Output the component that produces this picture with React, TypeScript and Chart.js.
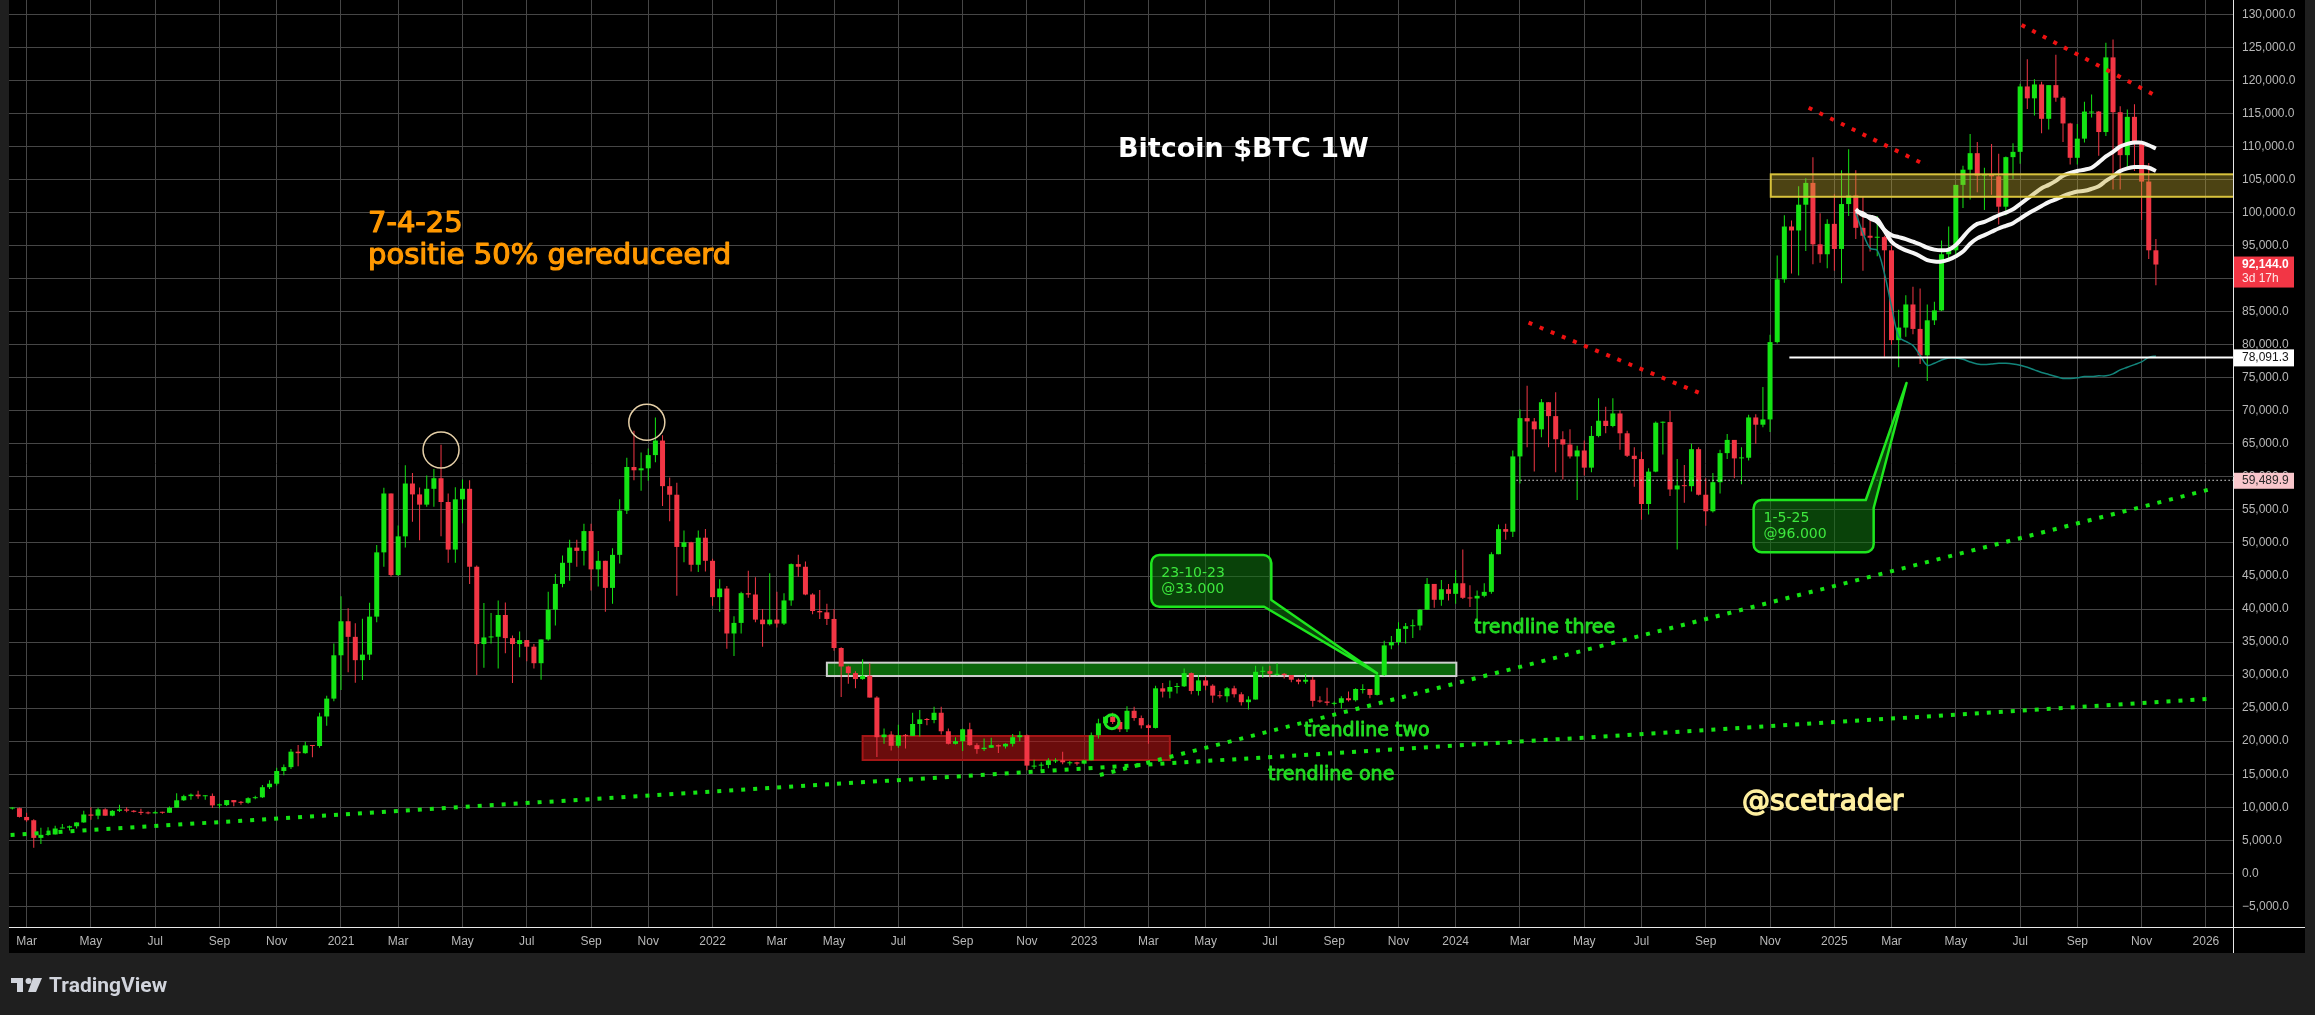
import { useEffect, useRef } from 'react';
import { Chart, registerables } from 'chart.js';

Chart.register(...registerables);

// ================= DATA =================
const AXIS_ORIGIN = '2020-03-02'; // week 0 of the time axis (Monday)
const FIRST_CANDLE = '2020-02-17'; // Monday of the first weekly candle

// weekly candles [open, high, low, close] in thousands of USD
const btc2020 = [
  [9.80, 10.0, 9.65, 9.86], [9.86, 9.96, 8.45, 8.53], [8.53, 9.18, 7.80, 8.03], [8.03, 8.18, 3.85, 5.36],
  [5.36, 6.90, 4.44, 5.82], [5.82, 6.98, 5.69, 5.88], [5.88, 7.20, 5.86, 6.78], [6.78, 7.47, 6.77, 6.91],
  [6.91, 7.22, 6.46, 7.12], [7.12, 7.73, 6.80, 7.70], [7.70, 9.46, 7.66, 8.90], [8.90, 10.0, 8.12, 8.72],
  [8.72, 9.93, 8.20, 9.68], [9.68, 9.86, 8.70, 8.72], [8.72, 9.60, 8.63, 9.45], [9.45, 10.38, 9.27, 9.67],
  [9.67, 9.99, 9.23, 9.47], [9.47, 9.58, 9.19, 9.30], [9.30, 9.77, 8.83, 9.14], [9.14, 9.37, 8.94, 9.07],
  [9.07, 9.48, 9.05, 9.25], [9.25, 9.30, 9.03, 9.16], [9.16, 10.11, 9.13, 9.93], [9.93, 12.10, 9.93, 11.05],
  [11.05, 11.90, 10.95, 11.68], [11.68, 12.08, 11.15, 11.91], [11.91, 12.48, 11.28, 11.66], [11.66, 11.80, 11.15, 11.71],
  [11.71, 12.09, 9.88, 10.28], [10.28, 10.58, 9.85, 10.33], [10.33, 11.10, 10.20, 11.08], [11.08, 11.10, 10.14, 10.75],
  [10.75, 10.95, 10.37, 10.67], [10.67, 11.50, 10.52, 11.37], [11.37, 11.72, 11.20, 11.50], [11.50, 13.35, 11.40, 13.03],
  [13.03, 14.09, 12.76, 13.56], [13.56, 15.96, 13.30, 15.48], [15.48, 16.48, 14.84, 16.07], [16.07, 18.81, 15.79, 18.41],
  [18.41, 19.42, 16.19, 18.18], [18.18, 19.92, 18.10, 19.36], [19.36, 19.42, 17.58, 19.27], [19.27, 24.30, 19.00, 23.74],
  [23.74, 26.87, 22.35, 26.44], [26.44, 34.78, 26.05, 33.0],
];
const btc2021 = [
  [33.0, 41.95, 27.73, 38.15], [38.15, 40.1, 30.42, 35.79], [35.79, 37.85, 28.85, 32.26], [32.26, 38.53, 29.24, 33.1],
  [33.1, 40.95, 32.3, 38.85], [38.85, 49.7, 37.99, 48.58], [48.58, 58.35, 46.4, 57.49], [57.49, 57.5, 44.9, 45.14],
  [45.14, 52.64, 45.0, 51.0], [51.0, 61.78, 49.3, 59.0], [59.0, 60.6, 53.2, 57.35], [57.35, 58.4, 50.4, 55.8],
  [55.8, 60.2, 55.5, 58.2], [58.2, 61.2, 55.5, 59.8], [59.8, 64.85, 51.0, 56.2], [56.2, 57.5, 47.0, 49.0],
  [49.0, 58.45, 47.0, 56.6], [56.6, 59.6, 53.0, 58.2], [58.2, 59.5, 43.8, 46.4], [46.4, 46.6, 30.0, 34.7],
  [34.7, 40.9, 31.1, 35.7], [35.7, 39.4, 34.8, 35.8], [35.8, 41.3, 31.0, 39.1], [39.1, 41.0, 33.3, 35.6],
  [35.6, 36.0, 28.8, 34.7], [34.7, 36.6, 32.7, 35.3], [35.3, 35.3, 32.1, 34.3], [34.3, 34.7, 31.0, 31.8],
  [31.8, 35.4, 29.3, 35.4], [35.4, 42.6, 35.2, 39.9], [39.9, 45.3, 37.5, 43.8], [43.8, 48.1, 43.3, 47.0],
  [47.0, 50.5, 44.3, 49.3], [49.3, 50.5, 46.4, 48.8], [48.8, 52.9, 46.6, 51.8], [51.8, 52.9, 42.8, 46.0],
  [46.0, 48.8, 43.4, 47.3], [47.3, 47.3, 39.6, 43.2], [43.2, 49.2, 40.8, 48.2], [48.2, 56.6, 46.9, 54.9],
  [54.9, 62.9, 54.4, 61.5], [61.5, 67.0, 59.5, 61.0], [61.0, 63.7, 57.9, 61.3], [61.3, 64.3, 59.4, 63.3],
  [63.3, 69.0, 62.2, 65.5], [65.5, 66.3, 55.6, 58.6], [58.6, 59.9, 53.3, 57.3], [57.3, 59.1, 42.0, 49.4],
  [49.4, 51.9, 47.1, 50.1], [50.1, 50.2, 45.7, 46.7], [46.7, 51.9, 45.6, 50.8], [50.8, 52.1, 45.7, 47.3],
];
const btc2022 = [
  [47.3, 47.6, 40.5, 41.8], [41.8, 44.5, 39.6, 43.1], [43.1, 43.5, 34.0, 36.3], [36.3, 38.9, 32.9, 37.9],
  [37.9, 42.6, 36.3, 42.4], [42.4, 45.8, 41.7, 42.2], [42.2, 44.8, 38.0, 38.4], [38.4, 40.0, 34.3, 37.7],
  [37.7, 45.4, 37.5, 38.4], [38.4, 42.6, 37.2, 37.8], [37.8, 42.4, 37.6, 41.3], [41.3, 46.9, 40.5, 46.8],
  [46.8, 48.2, 44.9, 46.4], [46.4, 47.2, 42.1, 42.2], [42.2, 42.4, 39.2, 39.7], [39.7, 42.9, 38.5, 39.5],
  [39.5, 40.8, 37.6, 38.5], [38.5, 40.0, 33.7, 34.1], [34.1, 34.2, 26.7, 31.3], [31.3, 31.4, 28.7, 30.3],
  [30.3, 30.6, 28.0, 29.4], [29.4, 32.4, 29.3, 29.9], [29.9, 31.8, 26.6, 26.6], [26.6, 26.8, 17.6, 20.6],
  [20.6, 21.9, 19.6, 21.0], [21.0, 21.5, 18.6, 19.3], [19.3, 22.5, 19.0, 20.9], [20.9, 21.1, 18.9, 20.8],
  [20.8, 24.3, 20.8, 22.6], [22.6, 24.7, 20.7, 23.3], [23.3, 23.5, 22.4, 23.2], [23.2, 25.2, 22.7, 24.3],
  [24.3, 25.2, 21.0, 21.5], [21.5, 21.9, 19.5, 19.6], [19.6, 20.6, 19.5, 20.0], [20.0, 21.9, 18.5, 21.8],
  [21.8, 22.8, 19.3, 19.4], [19.4, 19.7, 18.1, 18.8], [18.8, 20.4, 18.5, 19.0], [19.0, 20.5, 19.0, 19.4],
  [19.4, 19.5, 18.2, 19.2], [19.2, 19.7, 18.9, 19.6], [19.6, 21.1, 19.2, 20.6], [20.6, 21.5, 20.0, 20.9],
  [20.9, 21.0, 15.6, 16.3], [16.3, 17.2, 15.8, 16.3], [16.3, 16.8, 15.5, 16.4], [16.4, 17.4, 15.9, 17.1],
  [17.1, 17.4, 16.7, 17.1], [17.1, 18.4, 16.5, 16.8], [16.8, 17.0, 16.3, 16.8], [16.8, 16.9, 16.3, 16.6],
];
const btc2023 = [
  [16.6, 17.2, 16.5, 17.1], [17.1, 21.3, 17.1, 20.9], [20.9, 23.4, 20.4, 22.7], [22.7, 23.8, 22.3, 23.7],
  [23.7, 24.3, 22.6, 22.9], [22.9, 23.2, 21.4, 21.8], [21.8, 25.3, 21.4, 24.6], [24.6, 25.2, 23.1, 23.5],
  [23.5, 23.9, 21.9, 22.4], [22.4, 22.6, 19.6, 22.0], [22.0, 28.4, 21.9, 28.0], [28.0, 28.8, 26.6, 27.5],
  [27.5, 29.2, 26.5, 28.2], [28.2, 28.8, 27.2, 28.3], [28.3, 31.0, 28.2, 30.3], [30.3, 30.4, 27.1, 27.6],
  [27.6, 30.0, 26.9, 29.2], [29.2, 29.8, 27.7, 28.4], [28.4, 28.6, 25.8, 26.9], [26.9, 27.6, 26.5, 26.8],
  [26.8, 28.2, 25.9, 28.0], [28.0, 28.4, 26.6, 27.1], [27.1, 27.4, 25.4, 25.9], [25.9, 26.8, 24.8, 26.3],
  [26.3, 31.4, 26.3, 30.5], [30.5, 31.3, 29.6, 30.6], [30.6, 31.4, 29.7, 30.2], [30.2, 31.8, 29.9, 30.2],
  [30.2, 30.3, 29.5, 30.0], [30.0, 30.0, 28.9, 29.3], [29.3, 29.5, 28.6, 29.0], [29.0, 30.2, 28.7, 29.3],
  [29.3, 29.7, 25.2, 26.1], [26.1, 26.8, 25.8, 26.0], [26.0, 28.1, 25.4, 25.8], [25.8, 26.0, 25.4, 25.8],
  [25.8, 26.8, 24.9, 26.5], [26.5, 27.5, 26.0, 26.2], [26.2, 28.0, 26.0, 27.9], [27.9, 28.6, 27.2, 27.9],
  [27.9, 27.9, 26.5, 27.0], [27.0, 30.4, 26.9, 30.0], [30.0, 35.2, 29.9, 34.5], [34.5, 35.9, 33.9, 35.0],
  [35.0, 38.0, 34.5, 37.0], [37.0, 37.9, 34.8, 37.4], [37.4, 38.4, 35.6, 37.5], [37.5, 40.0, 36.8, 39.9],
  [39.9, 44.7, 39.9, 43.8], [43.8, 43.8, 40.2, 41.4], [41.4, 44.4, 40.5, 43.0], [43.0, 43.8, 41.3, 42.3],
];
const btc2024 = [
  [42.3, 45.9, 40.8, 43.9], [43.9, 49.0, 41.5, 41.7], [41.7, 43.6, 40.3, 41.6], [41.6, 42.8, 38.5, 42.0],
  [42.0, 43.9, 41.8, 42.6], [42.6, 48.6, 42.3, 48.3], [48.3, 52.8, 48.3, 52.1], [52.1, 52.9, 50.5, 51.7],
  [51.7, 64.0, 50.9, 63.1], [63.1, 70.2, 59.0, 68.9], [68.9, 73.8, 64.5, 68.4], [68.4, 68.9, 60.8, 67.2],
  [67.2, 71.8, 66.0, 71.3], [71.3, 71.3, 64.5, 69.2], [69.2, 72.8, 60.7, 65.7], [65.7, 66.9, 59.6, 64.9],
  [64.9, 67.2, 62.8, 63.1], [63.1, 64.7, 56.5, 64.0], [64.0, 65.5, 60.2, 61.4], [61.4, 67.7, 60.7, 66.2],
  [66.2, 71.9, 66.0, 68.5], [68.5, 70.6, 66.6, 67.7], [67.7, 71.9, 67.5, 69.6], [69.6, 70.1, 64.1, 66.6],
  [66.6, 67.0, 63.0, 63.2], [63.2, 64.5, 58.5, 62.7], [62.7, 63.8, 53.5, 55.9], [55.9, 61.3, 54.3, 60.8],
  [60.8, 68.4, 60.7, 68.2], [68.2, 68.4, 63.4, 68.3], [68.3, 70.0, 57.1, 58.1], [58.1, 62.7, 49.0, 58.7],
  [58.7, 61.8, 56.1, 58.6], [58.6, 65.0, 57.8, 64.2], [64.2, 64.5, 57.2, 57.3], [57.3, 59.8, 52.6, 54.8],
  [54.8, 60.6, 54.6, 59.2], [59.2, 64.1, 57.5, 63.6], [63.6, 66.5, 62.7, 65.6], [65.6, 65.6, 59.8, 62.8],
  [62.8, 64.5, 58.9, 62.9], [62.9, 69.4, 62.5, 69.0], [69.0, 69.5, 65.0, 67.9], [67.9, 73.6, 67.5, 68.7],
  [68.7, 81.5, 66.8, 80.4], [80.4, 93.5, 80.2, 89.9], [89.9, 99.6, 89.4, 97.9], [97.9, 98.8, 90.8, 97.3],
  [97.3, 104.0, 90.5, 101.2], [101.2, 105.2, 94.2, 104.5], [104.5, 108.4, 92.2, 95.2], [95.2, 99.9, 92.4, 93.7],
  [93.7, 99.0, 91.6, 98.3],
];
const btc2025 = [
  [98.3, 102.8, 91.2, 94.5], [94.5, 106.4, 89.3, 101.3], [101.3, 109.6, 99.5, 102.6], [102.6, 106.4, 96.0, 97.7],
  [97.7, 102.5, 91.2, 96.5], [96.5, 98.8, 94.1, 96.2], [96.2, 99.5, 93.4, 96.3], [96.3, 96.5, 78.2, 94.3],
  [94.3, 95.0, 80.0, 80.7], [80.7, 85.3, 76.6, 82.6], [82.6, 87.5, 81.2, 86.1], [86.1, 88.8, 81.6, 82.4],
  [82.4, 88.5, 77.1, 78.4], [78.4, 86.1, 74.5, 83.7], [83.7, 86.5, 83.0, 85.2], [85.2, 95.8, 85.1, 93.7],
  [93.7, 97.9, 92.8, 94.3], [94.3, 104.1, 93.4, 104.2], [104.2, 107.1, 100.7, 106.5], [106.5, 111.9, 102.0, 109.0],
  [109.0, 110.7, 103.1, 105.6], [105.6, 106.8, 100.4, 105.7], [105.7, 110.4, 102.7, 105.5], [105.5, 108.9, 98.2, 100.9],
  [100.9, 108.5, 99.6, 108.4], [108.4, 110.5, 105.1, 109.2], [109.2, 119.5, 107.4, 119.1], [119.1, 123.2, 115.7, 117.3],
  [117.3, 120.2, 114.7, 119.4], [119.4, 119.8, 112.0, 114.2], [114.2, 119.3, 112.6, 119.3], [119.3, 123.9, 116.8, 117.4],
  [117.4, 117.6, 110.7, 113.5], [113.5, 113.6, 107.3, 108.3], [108.3, 113.4, 107.3, 111.2], [111.2, 116.8, 110.6, 115.3],
  [115.3, 117.9, 114.4, 115.3], [115.3, 115.4, 108.6, 112.2], [112.2, 125.7, 111.6, 123.5], [123.5, 126.2, 103.5, 115.2],
  [115.2, 116.1, 103.5, 108.7], [108.7, 115.6, 106.7, 114.5], [114.5, 116.4, 106.3, 110.5], [110.5, 110.8, 98.9, 104.7],
  [104.7, 107.5, 93.0, 94.3], [94.3, 96.0, 89.0, 92.144],
];

// price axis ticks
const yTickValues = [
  -5000, 0, 5000, 10000, 15000, 20000, 25000, 30000, 35000, 40000, 45000, 50000, 55000, 60000,
  65000, 70000, 75000, 80000, 85000, 90000, 95000, 100000, 105000, 110000, 115000, 120000, 125000, 130000,
];
// time axis ticks (first weekly bar of the month)
const xTickDates = [
  '2020-03-02', '2020-05-04', '2020-07-06', '2020-09-07', '2020-11-02', '2021-01-04',
  '2021-03-01', '2021-05-03', '2021-07-05', '2021-09-06', '2021-11-01', '2022-01-03',
  '2022-03-07', '2022-05-02', '2022-07-04', '2022-09-05', '2022-11-07', '2023-01-02',
  '2023-03-06', '2023-05-01', '2023-07-03', '2023-09-04', '2023-11-06', '2024-01-01',
  '2024-03-04', '2024-05-06', '2024-07-01', '2024-09-02', '2024-11-04', '2025-01-06',
  '2025-03-03', '2025-05-05', '2025-07-07', '2025-09-01', '2025-11-03', '2026-01-05',
];
const xTickLabels = [
  'Mar', 'May', 'Jul', 'Sep', 'Nov', '2021', 'Mar', 'May', 'Jul', 'Sep', 'Nov', '2022',
  'Mar', 'May', 'Jul', 'Sep', 'Nov', '2023', 'Mar', 'May', 'Jul', 'Sep', 'Nov', '2024',
  'Mar', 'May', 'Jul', 'Sep', 'Nov', '2025', 'Mar', 'May', 'Jul', 'Sep', 'Nov', '2026',
];

// drawn trend lines: [week, price]
const trendlineOne = [[-2.24, 5800], [306.0, 26430]];
const trendlineTwo = [[150.2, 14880], [306.2, 58300]];
const downtrend2024 = [[210.2, 83340], [234.8, 72400]];
const downtrend2025a = [[249.4, 115880], [266.0, 107100]];
const downtrend2025b = [[279.2, 128400], [298.5, 117400]];

// indicator lines from week 256 (thousands USD)
const bandStartWeek = 256;
const bandUpper = [
  100.5, 99.6, 99.4, 99.0, 97.4, 96.6, 96.3, 96.0, 95.6, 95.2, 94.7, 94.4, 94.3, 94.4, 95.1, 96.3,
  97.5, 98.3, 98.6, 99.1, 99.6, 100.0, 100.5, 101.3, 102.1, 102.9, 103.7, 104.2, 104.8, 105.6, 106.0,
  106.3, 106.5, 106.8, 107.6, 108.5, 109.2, 110.0, 110.4, 110.6, 110.6, 110.2, 109.7,
];
const bandLower = [
  100.2, 99.9, 99.1, 98.6, 97.3, 95.6, 94.8, 94.3, 93.9, 93.4, 92.8, 92.6, 92.6, 92.9, 93.4, 94.1,
  95.3, 96.1, 96.6, 97.1, 97.6, 98.0, 98.4, 99.1, 99.8, 100.4, 101.0, 101.6, 102.0, 102.5, 102.9,
  103.2, 103.3, 103.6, 104.0, 104.8, 105.5, 106.3, 106.7, 106.9, 106.9, 106.8, 106.3,
];
const tealLine = [
  99.9, 96.9, 94.6, 94.3, 90.8, 85.8, 81.2, 80.5, 79.9, 78.4, 76.9, 77.2, 77.7, 78.0, 78.0, 77.8,
  77.4, 77.1, 77.0, 77.1, 77.2, 77.2, 77.1, 76.9, 76.6, 76.2, 75.8, 75.5, 75.2, 74.9, 74.9,
  75.0, 75.2, 75.2, 75.3, 75.3, 75.6, 76.2, 76.6, 77.0, 77.4, 78.1, 78.3,
];

const supportLevel = 78091.3;
const supportFromWeek = 246.7;
const markedLevel = 59489.9;
const markedFromWeek = 208.5;
const lastPrice = 92144.0;
const countdownText = '3d 17h';

// zones [fromWeek, toWeek, low, high]
const resistanceZone = [244.1, 320, 102400, 105800];
const rangeTopZone = [112.0, 200.1, 29860, 31880];
const bottomZone = [117.0, 160.0, 17150, 20780];

// callouts: box [leftWeek, rightWeek, low, high], tip [week, price], tail base [week on edge, price on right edge]
const calloutOct = { lines: ['23-10-23', '@33.000'], box: [157.4, 174.2, 40350, 48180], tip: [189.0, 30270], tail: [173.2, 41370], corner: 'br' };
const calloutMay = { lines: ['1-5-25', '@96.000'], box: [241.7, 258.5, 48590, 56500], tip: [263.1, 74210], tail: [257.4, 55290], corner: 'tr' };

// highlighted tops [week, price]
const topCircles = [[58.0, 64070], [86.8, 68260]];
const smallRing = [151.9, 22950];

// ================= LAYOUT / STYLE =================
const W = 2315;
const H = 1015;
const X_MIN = -2.464;
const X_MAX = 308.79;
const Y_MIN = -8128;
const Y_MAX = 132185;
const GREEN = '#14e414';
const RED = '#f23645';
const GRID = '#464646';
const AXIS_TEXT = '#b8b8b8';
const DOT_GREEN = '#14e414';
const DOT_RED = '#ee1111';

const DAY = 86400000;
const weekOf = (d: string) => Math.round((Date.parse(d) - Date.parse(AXIS_ORIGIN)) / (7 * DAY));

function fmtPrice(v: number) {
  return v.toLocaleString('en-US', { minimumFractionDigits: 1, maximumFractionDigits: 1 }).replace('-', '\u2212');
}

function roundRectPath(ctx: any, L: number, T: number, R: number, B: number, r: number, corner: string, tailA: number, tailB: number, tip: number[]) {
  ctx.beginPath();
  if (corner === 'br') {
    ctx.moveTo(L + r, T);
    ctx.lineTo(R - r, T);
    ctx.arcTo(R, T, R, T + r, r);
    ctx.lineTo(R, tailB);
    ctx.lineTo(tip[0], tip[1]);
    ctx.lineTo(tailA, B);
    ctx.lineTo(L + r, B);
    ctx.arcTo(L, B, L, B - r, r);
    ctx.lineTo(L, T + r);
    ctx.arcTo(L, T, L + r, T, r);
  } else {
    ctx.moveTo(L + r, T);
    ctx.lineTo(tailA, T);
    ctx.lineTo(tip[0], tip[1]);
    ctx.lineTo(R, tailB);
    ctx.lineTo(R, B - r);
    ctx.arcTo(R, B, R - r, B, r);
    ctx.lineTo(L + r, B);
    ctx.arcTo(L, B, L, B - r, r);
    ctx.lineTo(L, T + r);
    ctx.arcTo(L, T, L + r, T, r);
  }
  ctx.closePath();
}

function boldText(ctx: any, text: string, x: number, y: number, color: string, stroke: number) {
  ctx.fillStyle = color;
  ctx.fillText(text, x, y);
  if (stroke > 0) {
    ctx.strokeStyle = color;
    ctx.lineWidth = stroke;
    ctx.lineJoin = 'round';
    ctx.strokeText(text, x, y);
  }
}

export default function App() {
  const ref = useRef<HTMLCanvasElement>(null);

  useEffect(() => {
    const canvas = ref.current;
    if (!canvas) return;

    const firstWeek = weekOf(FIRST_CANDLE);
    const all = [...btc2020, ...btc2021, ...btc2022, ...btc2023, ...btc2024, ...btc2025];
    const candles = all.map((c, k) => ({ x: firstWeek + k, o: c[0] * 1000, h: c[1] * 1000, l: c[2] * 1000, c: c[3] * 1000 }));
    const colors = candles.map((c) => (c.c >= c.o ? GREEN : RED));
    const xTickWeeks = xTickDates.map(weekOf);

    const seg = (pts: number[][]) => pts.map((p) => ({ x: p[0], y: p[1] }));
    const series = (vals: number[]) => vals.map((v, k) => ({ x: bandStartWeek + k, y: v * 1000 }));

    const dotted = (label: string, pts: number[][], color: string) => ({
      type: 'line', label, data: seg(pts), borderColor: color, borderWidth: 4, borderDash: [4, 8],
      borderCapStyle: 'butt', pointRadius: 0, fill: false, tension: 0, order: 1,
    });

    const px = (chart: any, v: number) => chart.scales.x.getPixelForValue(v);
    const py = (chart: any, v: number) => chart.scales.y.getPixelForValue(v);

    const drawZone = (chart: any, z: number[], fill: string, stroke: string) => {
      const ctx = chart.ctx;
      const a = chart.chartArea;
      const x0 = px(chart, z[0]);
      const x1 = px(chart, z[1]);
      const y0 = py(chart, z[3]);
      const y1 = py(chart, z[2]);
      ctx.save();
      ctx.beginPath();
      ctx.rect(a.left, a.top, a.right - a.left, a.bottom - a.top);
      ctx.clip();
      ctx.fillStyle = fill;
      ctx.fillRect(x0, y0, x1 - x0, y1 - y0);
      ctx.strokeStyle = stroke;
      ctx.lineWidth = 2;
      ctx.strokeRect(x0, y0, x1 - x0, y1 - y0);
      ctx.restore();
    };

    const drawCallout = (chart: any, c: any) => {
      const ctx = chart.ctx;
      const L = px(chart, c.box[0]);
      const R = px(chart, c.box[1]);
      const T = py(chart, c.box[3]);
      const B = py(chart, c.box[2]);
      const tip = [px(chart, c.tip[0]), py(chart, c.tip[1])];
      const tailA = px(chart, c.tail[0]);
      const tailB = py(chart, c.tail[1]);
      ctx.save();
      roundRectPath(ctx, L, T, R, B, 8, c.corner, tailA, tailB, tip);
      ctx.fillStyle = 'rgba(16,120,16,0.55)';
      ctx.fill();
      ctx.strokeStyle = '#1ee61e';
      ctx.lineWidth = 2.5;
      ctx.lineJoin = 'round';
      ctx.stroke();
      ctx.font = '14px "DejaVu Sans"';
      ctx.textBaseline = 'alphabetic';
      ctx.textAlign = 'left';
      ctx.fillStyle = '#3ee83e';
      ctx.fillText(c.lines[0], L + 10, T + 22);
      ctx.fillText(c.lines[1], L + 10, T + 38);
      ctx.restore();
    };

    const overlay = {
      id: 'overlay',
      beforeDraw(chart: any) {
        const ctx = chart.ctx;
        ctx.save();
        ctx.fillStyle = '#1f1f1f';
        ctx.fillRect(0, 0, W, H);
        ctx.fillStyle = '#000000';
        ctx.fillRect(9, 0, 2305 - 9, 953);
        ctx.restore();
      },
      beforeDatasetsDraw(chart: any) {
        drawZone(chart, bottomZone, 'rgba(178,20,20,0.6)', '#a51616');
        drawZone(chart, rangeTopZone, 'rgba(20,170,20,0.6)', '#cfcfcf');
      },
      afterDatasetDraw(chart: any, args: any) {
        if (chart.data.datasets[args.index].label === 'bandLower') {
          drawZone(chart, resistanceZone, 'rgba(200,175,50,0.38)', '#d8c23c');
        }
      },
      afterDatasetsDraw(chart: any) {
        const ctx = chart.ctx;
        ctx.save();
        // circles around the tops
        ctx.strokeStyle = '#e6d0a8';
        ctx.lineWidth = 1.5;
        for (const c of topCircles) {
          ctx.beginPath();
          ctx.arc(px(chart, c[0]), py(chart, c[1]), 18, 0, Math.PI * 2);
          ctx.stroke();
        }
        ctx.strokeStyle = '#1ee61e';
        ctx.lineWidth = 3;
        ctx.beginPath();
        ctx.arc(px(chart, smallRing[0]), py(chart, smallRing[1]), 7, 0, Math.PI * 2);
        ctx.stroke();
        ctx.restore();

        drawCallout(chart, calloutOct);
        drawCallout(chart, calloutMay);

        ctx.save();
        ctx.textAlign = 'left';
        ctx.textBaseline = 'alphabetic';
        ctx.font = 'bold 27px "DejaVu Sans"';
        boldText(ctx, 'Bitcoin $BTC 1W', 1118, 157, '#ffffff', 0);
        ctx.font = '29px "DejaVu Sans"';
        boldText(ctx, '7-4-25', 368, 232, '#ff9800', 1.2);
        boldText(ctx, 'positie 50% gereduceerd', 368, 264, '#ff9800', 1.2);
        ctx.font = '19px "DejaVu Sans"';
        boldText(ctx, 'trendline three', 1474, 633, '#22dc22', 0.9);
        boldText(ctx, 'trendline two', 1304, 736, '#22dc22', 0.9);
        boldText(ctx, 'trendline one', 1268, 780, '#22dc22', 0.9);
        ctx.font = '28px "DejaVu Sans"';
        boldText(ctx, '@scetrader', 1742, 810, '#fff0a0', 1.3);
        ctx.restore();
      },
      afterDraw(chart: any) {
        const ctx = chart.ctx;
        const a = chart.chartArea;
        ctx.save();
        // axis separators
        ctx.strokeStyle = '#e8e8e8';
        ctx.lineWidth = 1;
        ctx.beginPath();
        ctx.moveTo(a.right + 0.5, 0);
        ctx.lineTo(a.right + 0.5, 953);
        ctx.moveTo(9, a.bottom + 0.5);
        ctx.lineTo(2305, a.bottom + 0.5);
        ctx.stroke();

        // price tags
        const tagX = a.right + 1;
        const tagW = 60;
        ctx.textAlign = 'left';
        ctx.textBaseline = 'middle';
        const yl = py(chart, lastPrice);
        ctx.fillStyle = '#f23645';
        ctx.fillRect(tagX, yl - 8, tagW, 31);
        ctx.fillStyle = '#ffffff';
        ctx.font = 'bold 12px "Liberation Sans"';
        ctx.fillText(fmtPrice(lastPrice), a.right + 9, yl + 0.5);
        ctx.font = '12px "Liberation Sans"';
        ctx.fillStyle = '#ffe8ea';
        ctx.fillText(countdownText, a.right + 9, yl + 14);

        const ys = py(chart, supportLevel);
        ctx.fillStyle = '#ffffff';
        ctx.fillRect(tagX, ys - 8, tagW, 17);
        ctx.fillStyle = '#131313';
        ctx.fillText(fmtPrice(supportLevel), a.right + 9, ys + 0.5);

        const ym = py(chart, markedLevel);
        ctx.fillStyle = '#f8c6cb';
        ctx.fillRect(tagX, ym - 7.5, tagW, 16);
        ctx.fillStyle = '#2a2a2a';
        ctx.fillText(fmtPrice(markedLevel), a.right + 9, ym + 0.5);

        // TradingView logo
        ctx.fillStyle = '#d1d4dc';
        ctx.fillRect(11, 978, 12, 5);
        ctx.fillRect(17, 978, 6, 14);
        ctx.beginPath();
        ctx.arc(28.5, 981, 3, 0, Math.PI * 2);
        ctx.fill();
        ctx.beginPath();
        ctx.moveTo(33, 978);
        ctx.lineTo(42, 978);
        ctx.lineTo(36, 992);
        ctx.lineTo(28, 992);
        ctx.closePath();
        ctx.fill();
        ctx.textBaseline = 'alphabetic';
        ctx.font = 'bold 21px Roboto';
        ctx.fillText('TradingView', 49, 992);
        ctx.restore();
      },
    };

    const chart = new Chart(canvas, {
      type: 'bar',
      data: {
        datasets: [
          dotted('trendlineOne', trendlineOne, DOT_GREEN),
          dotted('trendlineTwo', trendlineTwo, DOT_GREEN),
          dotted('down2024', downtrend2024, DOT_RED),
          dotted('down2025a', downtrend2025a, DOT_RED),
          dotted('down2025b', downtrend2025b, DOT_RED),
          {
            type: 'line', label: 'support', data: seg([[supportFromWeek, supportLevel], [X_MAX, supportLevel]]),
            borderColor: '#ffffff', borderWidth: 2, pointRadius: 0, fill: false, order: 2,
          },
          {
            type: 'line', label: 'marked', data: seg([[markedFromWeek, markedLevel], [X_MAX, markedLevel]]),
            borderColor: '#e6e6e6', borderWidth: 1, borderDash: [1.5, 2.5], pointRadius: 0, fill: false, order: 2,
          },
          {
            type: 'line', label: 'bandLower', data: series(bandLower), borderColor: '#f6f6f6', borderWidth: 4,
            pointRadius: 0, fill: false, tension: 0.35, order: 3,
          },
          {
            type: 'line', label: 'bandUpper', data: series(bandUpper), borderColor: '#f6f6f6', borderWidth: 4,
            pointRadius: 0, fill: false, tension: 0.35, order: 3.1,
          },
          {
            type: 'line', label: 'teal', data: series(tealLine), borderColor: '#12857b', borderWidth: 1.5,
            pointRadius: 0, fill: false, tension: 0.35, order: 4,
          },
          {
            type: 'bar', label: 'bodies', data: candles.map((c) => ({ x: c.x, y: [c.o, c.c] })),
            backgroundColor: colors, barThickness: 5, maxBarThickness: 5, barPercentage: 1, categoryPercentage: 1,
            minBarLength: 1, grouped: false, inflateAmount: 0, borderWidth: 0, order: 5,
          },
          {
            type: 'bar', label: 'wicks', data: candles.map((c) => ({ x: c.x, y: [c.l, c.h] })),
            backgroundColor: colors, barThickness: 1, maxBarThickness: 1, barPercentage: 1, categoryPercentage: 1,
            grouped: false, inflateAmount: 0, borderWidth: 0, order: 6,
          },
        ] as any,
      },
      options: {
        responsive: false,
        animation: false,
        devicePixelRatio: 1,
        events: [],
        layout: { padding: { left: 9, right: 10, top: 0, bottom: 0 } },
        plugins: { legend: { display: false }, tooltip: { enabled: false } },
        scales: {
          x: {
            type: 'linear', position: 'bottom', min: X_MIN, max: X_MAX, offset: false,
            afterBuildTicks: (s: any) => { s.ticks = xTickWeeks.map((v) => ({ value: v })); },
            afterFit: (s: any) => { s.height = 88; s.paddingLeft = 0; s.paddingRight = 0; },
            ticks: {
              autoSkip: false, maxRotation: 0, minRotation: 0, padding: 7, color: AXIS_TEXT,
              font: { family: 'Liberation Sans', size: 12 },
              callback: (v: any) => { const i = xTickWeeks.indexOf(v); return i >= 0 ? xTickLabels[i] : ''; },
            },
            grid: { color: GRID, lineWidth: 1, drawTicks: false, offset: false },
            border: { display: false },
          },
          y: {
            type: 'linear', position: 'right', min: Y_MIN, max: Y_MAX,
            afterBuildTicks: (s: any) => { s.ticks = yTickValues.map((v) => ({ value: v })); },
            afterFit: (s: any) => { s.width = 72; s.paddingTop = 0; s.paddingBottom = 0; },
            ticks: {
              padding: 9, color: AXIS_TEXT, font: { family: 'Liberation Sans', size: 12 },
              callback: (v: any) => fmtPrice(Number(v)),
            },
            grid: { color: GRID, lineWidth: 1, drawTicks: false },
            border: { display: false },
          },
        },
      } as any,
      plugins: [overlay as any],
    });

    return () => chart.destroy();
  }, []);

  return (
    <div style={{ position: 'fixed', left: 0, top: 0, width: W, height: H, background: '#1f1f1f' }}>
      <canvas ref={ref} width={W} height={H} style={{ display: 'block', width: W, height: H }} />
    </div>
  );
}
